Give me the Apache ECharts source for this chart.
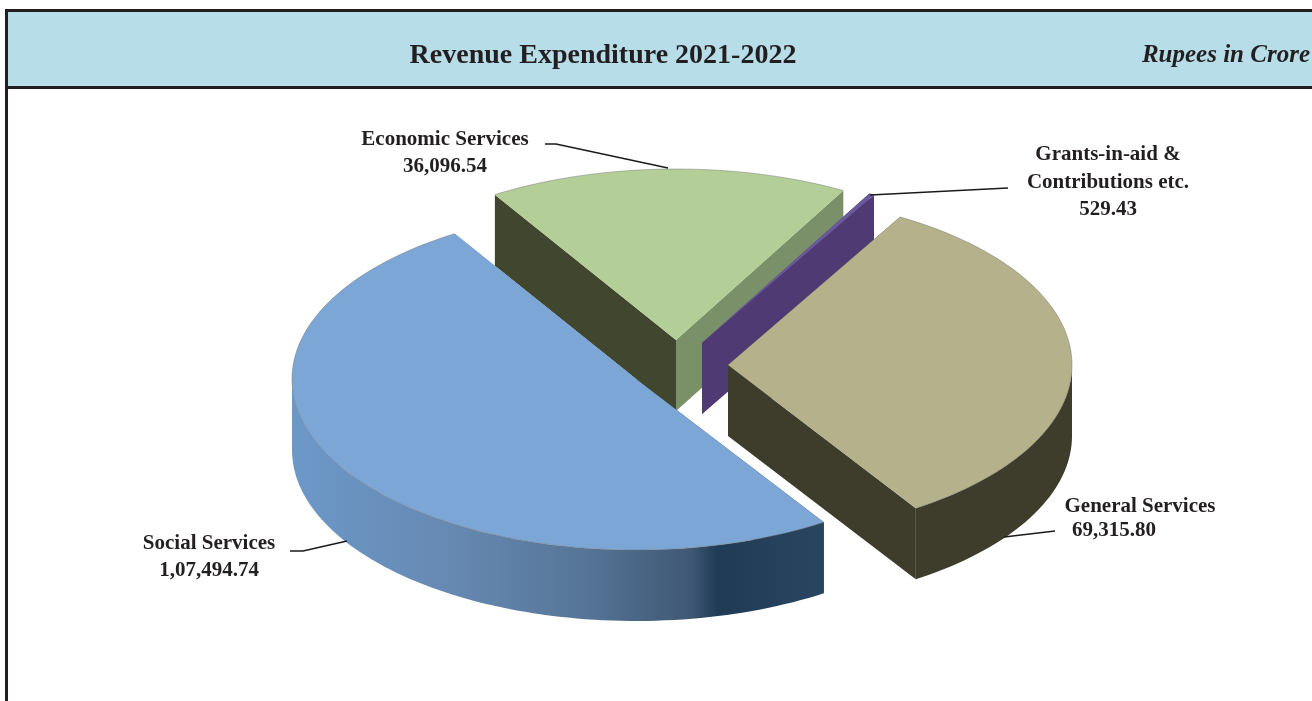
<!DOCTYPE html>
<html>
<head>
<meta charset="utf-8">
<style>html,body{margin:0;padding:0;background:#fff}#c{width:1312px;height:701px}</style>
<script src="https://cdn.jsdelivr.net/npm/echarts@6/dist/echarts.min.js"></script>
</head>
<body>
<div id="c"></div>
<script>
// ---- data ----
const categories = ['General Services', 'Social Services', 'Economic Services', 'Grants-in-aid &\nContributions etc.'];
const values = [69315.80, 107494.74, 36096.54, 529.43];
const valueLabels = ['69,315.80', '1,07,494.74', '36,096.54', '529.43'];
const titleText = 'Revenue Expenditure 2021-2022';
const unitText = 'Rupees in Crore';

// ---- layout and style (not data) ----
const startDeg = 300;              // screen angle where the first slice starts
const radiusX = 344, radiusY = 171, depth = 71;
const centers = [[728, 365], [636, 379], [676, 340], [702, 343]];
const topColors = ['#b4b18b', '#7ba6d6', '#b3cf97', '#6a5a9c'];
const cutStartColors = ['#3e3d2c', '#3e3d2c', '#41472f', '#503a74'];  // wall at the slice's start edge
const cutEndColors = ['#3e3d2c', '#7ba6d6', '#7a9068', '#503a74'];    // wall at the slice's end edge
const outerFills = ['#3e3d2c', {
  type: 'linear', x: 0, y: 0, x2: 1, y2: 0,
  colorStops: [
    { offset: 0, color: '#6c98c8' }, { offset: 0.3, color: '#6689b2' },
    { offset: 0.55, color: '#567597' }, { offset: 0.75, color: '#3f5875' },
    { offset: 0.8, color: '#203b56' }, { offset: 1, color: '#2a455f' }
  ]
}, '#7a9068', '#503a74'];
const labelFont = 'bold 21px "Liberation Serif", serif';
const labelColor = '#231f20';
const labelPlacement = [
  [{ x: 1140, y: 507 }, { x: 1114, y: 531 }],
  [{ x: 209, y: 544 }, { x: 209, y: 571 }],
  [{ x: 445, y: 140 }, { x: 445, y: 167 }],
  [{ x: 1108, y: 169 }, { x: 1108, y: 210 }]
];
const leaders = [
  [[1004, 537], [1055, 531]],
  [[290, 551], [303, 551], [347, 541]],
  [[545, 144], [556, 144], [668, 168]],
  [[870, 195], [1008, 188]]
];

const total = values.reduce((a, b) => a + b, 0);
const drawOrder = [2, 3, 0, 1];
let cursor = startDeg;
const spans = values.map(v => { const a = cursor; cursor += v / total * 360; return [a, cursor]; });

function arcPoints(c, a, b, dy) {
  const pts = [], n = Math.max(2, Math.ceil(Math.abs(b - a) / 1.5));
  for (let i = 0; i <= n; i++) {
    const t = (a + (b - a) * i / n) * Math.PI / 180;
    pts.push([c[0] + radiusX * Math.cos(t), c[1] + radiusY * Math.sin(t) + dy]);
  }
  return pts;
}

function renderSlice(params, api) {
  const i = api.value(0);
  const c = centers[i], a = spans[i][0], b = spans[i][1];
  const children = [];
  const poly = (points, fill, z2) => children.push({
    type: 'polygon', z2: z2 || 0, shape: { points }, style: { fill, stroke: null }, silent: true
  });
  // cut walls
  const p0 = arcPoints(c, a, a, 0)[0], p1 = arcPoints(c, b, b, 0)[0];
  const wall = (p, fill) => poly([c, p, [p[0], p[1] + depth], [c[0], c[1] + depth]], fill);
  wall(p0, cutStartColors[i]);
  wall(p1, cutEndColors[i]);
  // outer wall: the part of the rim facing the viewer
  const norm = x => ((x % 360) + 360) % 360;
  let s = a, e = b;
  if (norm(a) > 180) { s = a + (360 - norm(a)); }
  if (s < e) {
    const ee = Math.min(e, s + 180 - norm(s));
    if (ee > s) {
      const top = arcPoints(c, s, ee, 0), bot = arcPoints(c, s, ee, depth).reverse();
      poly(top.concat(bot), outerFills[i], 1);
    }
  }
  // top face
  const arc = arcPoints(c, a, b, 0);
  poly([c].concat(arc), topColors[i], 2);
  children.push({
    type: 'polyline', z2: 3, silent: true, shape: { points: arc },
    style: { fill: null, stroke: 'rgba(110,110,110,0.45)', lineWidth: 1 }
  });
  return { type: 'group', children };
}

function renderLabel(params, api) {
  const i = api.value(0);
  const children = [];
  const tx = (text, pos) => children.push({
    type: 'text', silent: true, x: pos.x, y: pos.y,
    style: { text, font: labelFont, fill: labelColor, align: 'center', verticalAlign: 'middle', lineHeight: 28 }
  });
  tx(categories[i], labelPlacement[i][0]);
  tx(valueLabels[i], labelPlacement[i][1]);
  children.push({
    type: 'polyline', silent: true, shape: { points: leaders[i] },
    style: { fill: null, stroke: '#1a1a1a', lineWidth: 1.6 }
  });
  return { type: 'group', children };
}

const chart = echarts.init(document.getElementById('c'), null, { renderer: 'canvas' });
chart.setOption({
  animation: false,
  backgroundColor: '#ffffff',
  title: [
    { text: titleText, left: 598, top: 51, textAlign: 'center', textVerticalAlign: 'middle',
      textStyle: { fontFamily: '"Liberation Serif", serif', fontWeight: 'bold', fontSize: 28, color: labelColor } },
    { text: unitText, left: 1305, top: 51, textAlign: 'right', textVerticalAlign: 'middle',
      textStyle: { fontFamily: '"Liberation Serif", serif', fontWeight: 'bold', fontStyle: 'italic', fontSize: 25, color: labelColor } }
  ],
  graphic: [
    { type: 'rect', z: -1, silent: true, shape: { x: 7, y: 11, width: 1305, height: 76 },
      style: { fill: '#b7dde8', stroke: null } },
    { type: 'rect', z: 0, silent: true, shape: { x: 5, y: 9, width: 1307, height: 3 }, style: { fill: '#231f20' } },
    { type: 'rect', z: 0, silent: true, shape: { x: 5, y: 86, width: 1307, height: 3 }, style: { fill: '#231f20' } },
    { type: 'rect', z: 0, silent: true, shape: { x: 5, y: 9, width: 3, height: 692 }, style: { fill: '#231f20' } }
  ],
  series: [
    { type: 'custom', coordinateSystem: 'none', renderItem: renderSlice, clip: false, silent: true,
      z: 2, data: drawOrder.map(i => ({ value: [i, values[i]], name: categories[i] })) },
    { type: 'custom', coordinateSystem: 'none', renderItem: renderLabel, clip: false, silent: true,
      z: 3, data: drawOrder.map(i => ({ value: [i, values[i]], name: categories[i] })) }
  ]
});
</script>
</body>
</html>
